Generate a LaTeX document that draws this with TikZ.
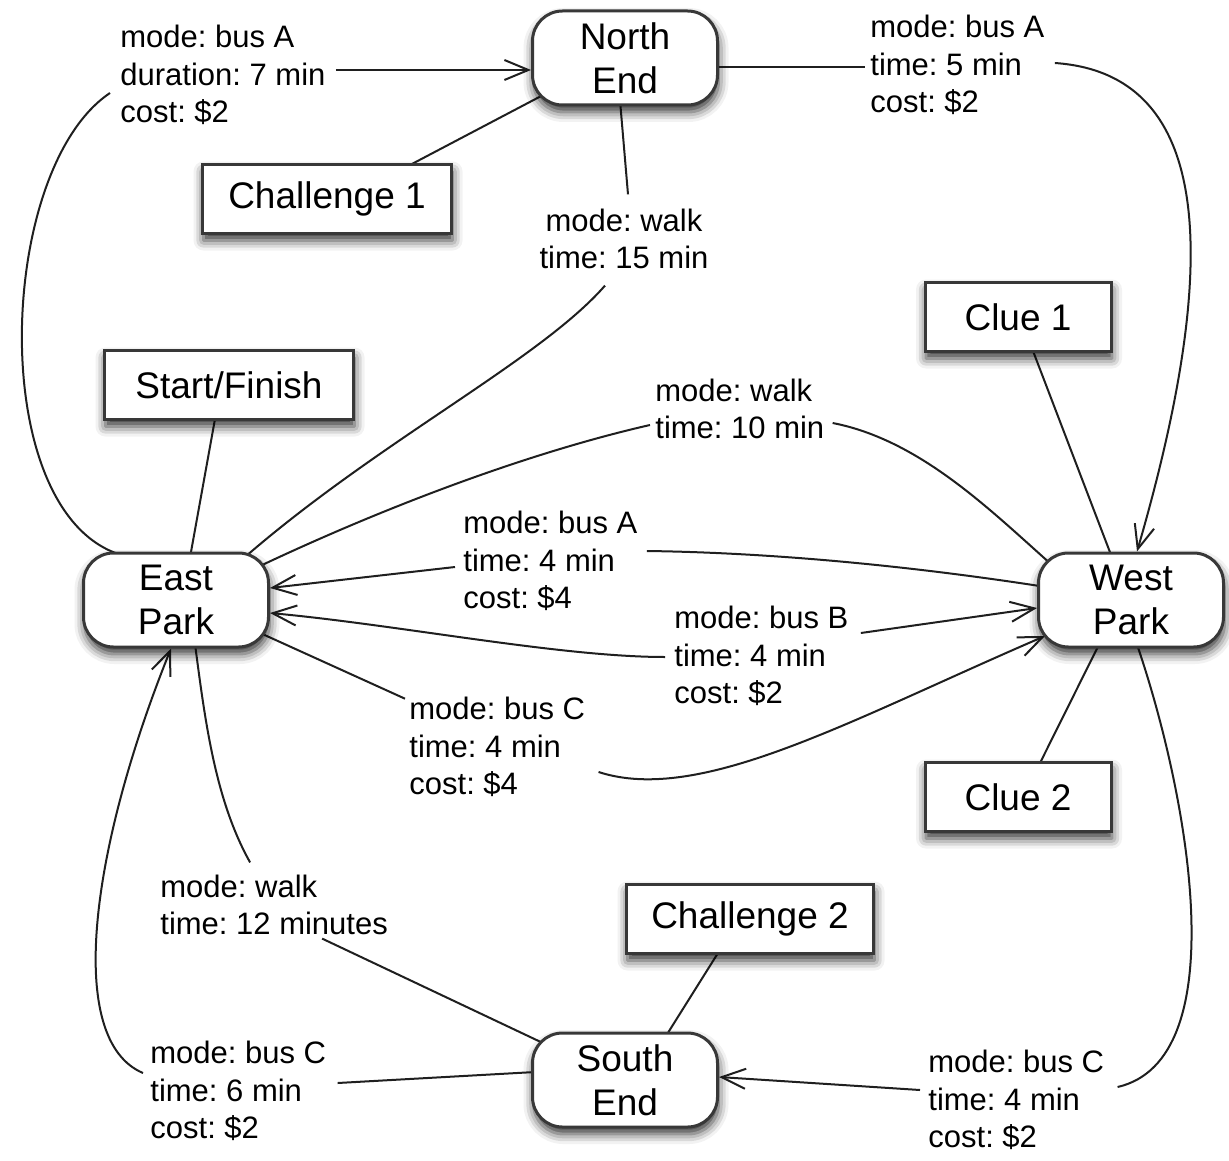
\documentclass[tikz,border=0pt]{standalone}
\usepackage{fontspec}
\setmainfont{Liberation Sans}
\frenchspacing
\usetikzlibrary{arrows.meta,shadows.blur,backgrounds}

\tikzset{
  soft/.style={blur shadow={shadow xshift=0.5pt,shadow yshift=-3.5pt,shadow blur radius=5pt,shadow opacity=80}},
  place/.style={soft, draw=black!78, line width=1.5pt, fill=white, rounded corners=15pt,
    minimum width=92.5pt, minimum height=47pt, align=center, inner sep=0pt,
    font=\fontsize{18.5}{22}\selectfont},
  task/.style={soft, draw=black!78, line width=1.5pt, fill=white, minimum height=34.5pt,
    inner sep=0pt, font=\fontsize{18.5}{22}\selectfont},
  info/.style={anchor=west, align=left, inner sep=0pt, font=\fontsize{15.5}{18.8}\selectfont},
  link/.style={line width=1pt, draw=black!88},
  arr/.style={link, -{Straight Barb[length=12pt,width=10pt]}},
}

\begin{document}
\begin{tikzpicture}[x=0.5pt,y=-0.5pt]
\useasboundingbox (0,0) rectangle (1229,1160);

% places
\node[place] (NE) at (625,58)   {North\\End};
\node[place] (EP) at (176,600)  {East\\Park};
\node[place] (WP) at (1131,600) {West\\Park};
\node[place] (SE) at (625,1080) {South\\End};

% tasks attached to places
\node[task, minimum width=124.5pt] (C1)  at (327,199)  {Challenge 1};
\node[task, minimum width=124.5pt] (SF)  at (229,385)  {Start/Finish};
\node[task, minimum width=93pt]    (CL1) at (1018,317) {Clue 1};
\node[task, minimum width=93pt]    (CL2) at (1018,797) {Clue 2};
\node[task, minimum width=123.5pt] (C2)  at (750,919)  {Challenge 2};

% route descriptions
\node[info] (La) at (120,75)  {mode: bus A\\duration: 7 min\\cost: \$2};
\node[info] (Lb) at (870,65)  {mode: bus A\\time: 5 min\\cost: \$2};
\node[info, anchor=center, align=center] (Lc) at (624,239) {mode: walk\\time: 15 min};
\node[info] (Ld) at (655,409) {mode: walk\\time: 10 min};
\node[info] (Le) at (463,561) {mode: bus A\\time: 4 min\\cost: \$4};
\node[info] (Lf) at (674,656) {mode: bus B\\time: 4 min\\cost: \$2};
\node[info] (Lg) at (409,747) {mode: bus C\\time: 4 min\\cost: \$4};
\node[info] (Lh) at (160,905) {mode: walk\\time: 12 minutes};
\node[info] (Li) at (150,1091) {mode: bus C\\time: 6 min\\cost: \$2};
\node[info] (Lj) at (928,1100) {mode: bus C\\time: 4 min\\cost: \$2};

\begin{scope}[on background layer]
% East Park -> North End, bus A
\draw[link] ([shift={(-51,-44)}]EP.center) .. controls (-15,520) and (-5,170) .. ([shift={(-10,18)}]La.west);
\draw[arr] ([shift={(10,-5)}]La.east) -- ([shift={(0,12)}]NE.west);
% North End -> West Park, bus A
\draw[link] ([shift={(-4,9)}]NE.east) -- ([shift={(-5,2)}]Lb.west);
\draw[arr] ([shift={(10,-2)}]Lb.east) .. controls (1230,75) and (1210,300) .. ([shift={(6,0)}]WP.north);
% North End -- East Park, walk
\draw[link] ([shift={(-5,-6)}]NE.south) -- ([shift={(4,-14)}]Lc.north);
\draw[link] ([shift={(-19,16)}]Lc.south) .. controls (540,360) and (380,440) .. ([shift={(69,-43)}]EP.center);
% East Park -- West Park, walk
\draw[link] ([shift={(84,-34)}]EP.center) .. controls (400,500) and (540,450) .. ([shift={(-5,16)}]Ld.west);
\draw[link] ([shift={(8,14)}]Ld.east) .. controls (920,440) and (990,510) .. ([shift={(-79,-35)}]WP.center);
% West Park -> East Park, bus A
\draw[link] ([shift={(9,-10)}]Le.east) .. controls (800,553) and (950,572) .. ([shift={(-85,-13)}]WP.center);
\draw[arr] ([shift={(-8,6)}]Le.west) -- ([shift={(0,-12)}]EP.east);
% East Park <-> West Park, bus B
\draw[arr] ([shift={(-9,1)}]Lf.west) .. controls (560,657) and (400,625) .. ([shift={(0,13)}]EP.east);
\draw[arr] ([shift={(12,-23)}]Lf.east) -- ([shift={(0,8)}]WP.west);
% East Park -> West Park, bus C
\draw[link] ([shift={(82,32)}]EP.center) -- ([shift={(-4,2)}]Lg.north west);
\draw[arr] ([shift={(13,25)}]Lg.east) .. controls (700,805) and (850,720) .. ([shift={(-86,36)}]WP.center);
% East Park -- South End, walk
\draw[link] ([shift={(19,44)}]EP.center) .. controls (205,720) and (215,800) .. ([shift={(-24,-12)}]Lh.north);
\draw[link] ([shift={(48,3)}]Lh.south) -- ([shift={(-80,-36)}]SE.center);
% South End -> East Park, bus C
\draw[link] ([shift={(4,-8)}]SE.west) -- ([shift={(11,-8)}]Li.east);
\draw[arr] ([shift={(-7,-18)}]Li.west) .. controls (65,1040) and (90,850) .. ([shift={(-5,0)}]EP.south);
% West Park -> South End, bus C
\draw[link] ([shift={(6,-4)}]WP.south) .. controls (1190,800) and (1235,1060) .. ([shift={(13,-13)}]Lj.east);
\draw[arr] ([shift={(-8,-10)}]Lj.west) -- ([shift={(0,-3)}]SE.east);
% tasks to places
\draw[link] ([shift={(83,2)}]C1.north) -- ([shift={(-80,36)}]NE.center);
\draw[link] ([shift={(-14,-2)}]SF.south) -- ([shift={(14,6)}]EP.north);
\draw[link] ([shift={(15,-2)}]CL1.south) -- ([shift={(-19,6)}]WP.north);
\draw[link] ([shift={(22,2)}]CL2.north) -- ([shift={(-31,-6)}]WP.south);
\draw[link] ([shift={(-32,-2)}]C2.south) -- ([shift={(40,6)}]SE.north);
\end{scope}
\end{tikzpicture}
\end{document}
